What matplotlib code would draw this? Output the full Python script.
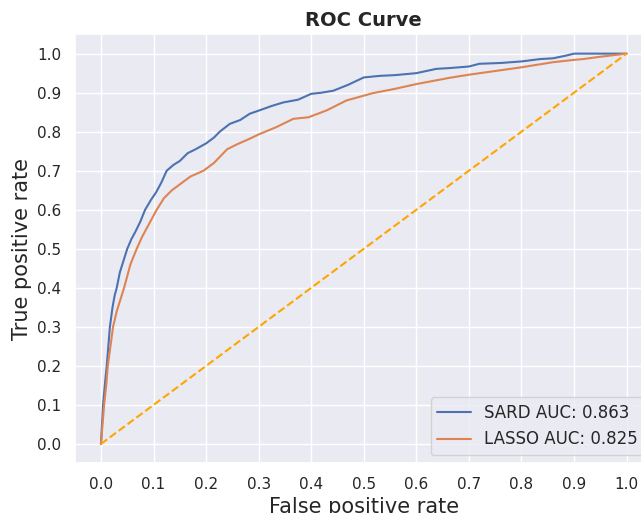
import numpy as np
import matplotlib
matplotlib.use("Agg")
import matplotlib.pyplot as plt
import seaborn as sns

# ROC points
sard_fpr = [0.0, 0.002, 0.004, 0.008, 0.011, 0.014, 0.017, 0.022, 0.026, 0.030,
            0.036, 0.043, 0.050, 0.058, 0.066, 0.075, 0.084, 0.095, 0.105,
            0.115, 0.125, 0.138, 0.150, 0.165, 0.180, 0.200, 0.215, 0.226,
            0.245, 0.265, 0.283, 0.300, 0.325, 0.347, 0.375, 0.400, 0.420,
            0.442, 0.470, 0.500, 0.530, 0.560, 0.600, 0.638, 0.663, 0.700,
            0.720, 0.760, 0.800, 0.835, 0.860, 0.885, 0.900, 0.950, 1.0]
sard_tpr = [0.0, 0.05, 0.10, 0.16, 0.20, 0.25, 0.30, 0.35, 0.38, 0.40,
            0.44, 0.47, 0.50, 0.525, 0.545, 0.57, 0.60, 0.625, 0.645,
            0.67, 0.70, 0.715, 0.725, 0.745, 0.755, 0.77, 0.785, 0.80,
            0.82, 0.83, 0.846, 0.854, 0.866, 0.875, 0.882, 0.897, 0.900,
            0.905, 0.920, 0.939, 0.943, 0.945, 0.950, 0.961, 0.963, 0.967,
            0.974, 0.976, 0.980, 0.986, 0.988, 0.995, 1.0, 1.0, 1.0]

lasso_fpr = [0.0, 0.003, 0.006, 0.010, 0.013, 0.018, 0.023, 0.030, 0.037, 0.044,
             0.050, 0.056, 0.062, 0.068, 0.078, 0.090, 0.106, 0.120, 0.135,
             0.150, 0.170, 0.195, 0.215, 0.240, 0.261, 0.283, 0.300, 0.334,
             0.366, 0.395, 0.430, 0.467, 0.518, 0.560, 0.600, 0.663, 0.700,
             0.758, 0.800, 0.860, 0.900, 0.917, 0.950, 1.0]
lasso_tpr = [0.0, 0.05, 0.10, 0.15, 0.20, 0.25, 0.30, 0.34, 0.37, 0.40,
             0.43, 0.46, 0.48, 0.50, 0.53, 0.56, 0.60, 0.63, 0.65,
             0.665, 0.685, 0.70, 0.72, 0.755, 0.769, 0.782, 0.793, 0.812,
             0.833, 0.837, 0.855, 0.880, 0.899, 0.910, 0.922, 0.938, 0.946,
             0.957, 0.965, 0.978, 0.984, 0.986, 0.992, 1.0]

labels = ["SARD AUC: 0.863", "LASSO AUC: 0.825"]
ticks = np.round(np.arange(0, 1.01, 0.1), 1)

sns.set_theme(style="darkgrid")

fig = plt.figure(figsize=(6.41, 5.13), dpi=100)
ax = fig.add_axes([0.1165, 0.0965, 0.902, 0.837])

ax.plot(sard_fpr, sard_tpr, label=labels[0], linewidth=1.5)
ax.plot(lasso_fpr, lasso_tpr, label=labels[1], linewidth=1.5)
ax.plot([0, 1], [0, 1], "--", color="orange", linewidth=1.5)

ax.set_xticks(ticks)
ax.set_yticks(ticks)
ax.set_xlim(-0.05, 1.05)
ax.set_ylim(-0.05, 1.05)
ax.tick_params(labelsize=11)
ax.set_xlabel("False positive rate", fontsize=15)
ax.set_ylabel("True positive rate", fontsize=15)
ax.set_title("ROC Curve", fontsize=14, fontweight="bold")
ax.legend(loc="lower right", fontsize=12)

fig.savefig("out.png", dpi=100)
